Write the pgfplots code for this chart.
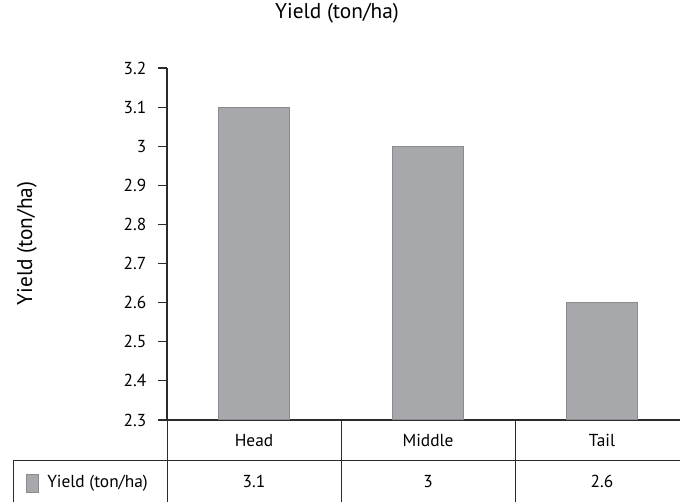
\documentclass[border=0pt]{standalone}
\usepackage{pgfplots}
\pgfplotsset{compat=1.18}
\usepackage{fontspec}
\setmainfont{PT Sans}
\definecolor{barfill}{HTML}{A7A8AB}
\definecolor{baredge}{HTML}{8A8B8E}
\definecolor{axcol}{HTML}{2B2B2B}
\newcommand{\tfont}{\fontsize{13}{15}\selectfont}
\newcommand{\lfont}{\fontsize{16}{18}\selectfont}
\begin{document}
\tfont
\begin{tikzpicture}
\useasboundingbox (0,0) rectangle (510pt,376.5pt);
\clip (0,0) rectangle (510pt,376.5pt);
\begin{axis}[
  at={(125.25pt,61.5pt)}, anchor=south west,
  scale only axis, width=391.5pt, height=264pt,
  xmin=-0.5, xmax=2.5, ymin=2.3, ymax=3.2,
  ytick={2.3,2.4,2.5,2.6,2.7,2.8,2.9,3.0,3.1,3.2},
  xtick=\empty,
  axis x line*=bottom, axis y line*=left,
  axis line style={axcol, line width=0.8pt, -},
  y tick style={axcol, line width=0.8pt},
  tick align=outside, major tick length=6.5pt,
  /pgf/number format/assume math mode=true,
  /pgf/number format/fixed, /pgf/number format/precision=1,
  yticklabel style={font=\tfont, xshift=-4.5pt},
  title={Yield (ton/ha)},
  title style={at={(axis description cs:0.3257,1.1165)}, anchor=base, font=\lfont},
  ylabel={Yield (ton/ha)},
  ylabel style={at={(axis description cs:-0.2586,0.5014)}, anchor=base, font=\lfont},
  ybar, bar width=53.25pt,
]
\addplot[fill=barfill, draw=baredge, line width=0.8pt] coordinates {(0,3.1) (1,3.0) (2,2.6)};
\end{axis}
% data table below the axis
\draw[axcol, line width=0.6pt] (9.75pt,31.5pt) -- (520pt,31.5pt);
\draw[axcol, line width=0.6pt] (9.75pt,0pt) -- (9.75pt,31.5pt);
\draw[axcol, line width=0.6pt] (125.25pt,0pt) -- (125.25pt,61.5pt);
\draw[axcol, line width=0.6pt] (255.75pt,0pt) -- (255.75pt,61.5pt);
\draw[axcol, line width=0.6pt] (386.25pt,0pt) -- (386.25pt,61.5pt);
\node[anchor=base] at (190.5pt,41.25pt) {Head};
\node[anchor=base] at (321pt,41.25pt) {Middle};
\node[anchor=base] at (451.5pt,41.25pt) {Tail};
\node[anchor=base] at (190.5pt,10.5pt) {3.1};
\node[anchor=base] at (321pt,10.5pt) {3};
\node[anchor=base] at (451.5pt,10.5pt) {2.6};
\draw[fill=barfill, draw=baredge, line width=0.6pt] (19.5pt,7.5pt) rectangle (28.5pt,21pt);
\node[anchor=base west, inner sep=0pt] at (35.25pt,10.5pt) {Yield (ton/ha)};
\end{tikzpicture}
\end{document}
